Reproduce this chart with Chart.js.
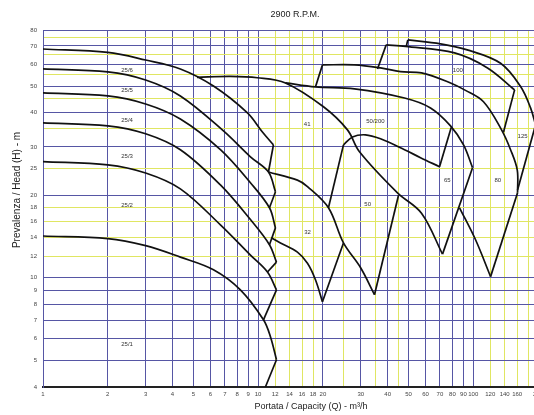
<!DOCTYPE html>
<html>
<head>
<meta charset="utf-8">
<title>2900 R.P.M.</title>
<script src="https://cdn.jsdelivr.net/npm/chart.js@4.4.0/dist/chart.umd.min.js"></script>
<style>
  html, body { margin: 0; padding: 0; background: #fff; overflow: hidden; }
  #box { position: relative; width: 560px; height: 415px; }
</style>
</head>
<body>
<div id="box"><canvas id="pumpChart"></canvas></div>
<script>
// log grid: blue = decades/units, yellow = intermediate lines
const xGridBlue = [1, 2, 3, 4, 5, 6, 7, 8, 9, 10, 20, 30, 40, 50, 60, 70, 80, 90, 100, 200];
const xGridYellow = [12, 14, 16, 18, 25, 35, 45, 120, 140, 160, 180];
const xTickLabels = [1, 2, 3, 4, 5, 6, 7, 8, 9, 10, 12, 14, 16, 18, 20, 30, 40, 50, 60, 70, 80, 90, 100, 120, 140, 160, 200];
const yGridBlue = [4, 5, 6, 7, 8, 9, 10, 20, 30, 40, 50, 60, 70, 80];
const yGridYellow = [12, 14, 16, 18, 25, 35, 45, 55, 65, 75];
const yTickLabels = [4, 5, 6, 7, 8, 9, 10, 12, 14, 16, 18, 20, 25, 30, 40, 50, 60, 70, 80];

// impeller curves, [Q m3/h, H m]
const c25_6 = [[1, 68.2], [2, 66.3], [3, 62.2], [4.35, 57.7], [6.2, 50.0], [8.92, 39.9], [10.47, 34.0], [11.78, 30.5]];
const c25_5 = [[1, 57.7], [2, 56.3], [3, 52.6], [4.35, 46.0], [6.9, 34.3], [9.21, 27.6], [11.17, 24.3], [12.04, 20.6]];
const c25_4 = [[1, 47.2], [2, 46.0], [3, 43.0], [4.35, 37.9], [6.68, 29.3], [9.21, 22.2], [11.29, 18.0], [12.04, 15.2]];
const c25_3 = [[1, 36.7], [2, 35.8], [3, 33.5], [4.35, 29.3], [6.68, 21.8], [9.21, 16.3], [11.29, 13.2], [12.17, 11.4]];
const c25_2 = [[1, 26.5], [2, 25.8], [3, 24.1], [4.35, 21.1], [6.68, 15.6], [9.21, 12.1], [11.05, 10.5], [12.17, 9.04]];
const c25_1 = [[1, 14.2], [2, 13.9], [3, 13.1], [4.35, 11.9], [6.2, 10.7], [8.27, 9.04], [10.59, 7.03], [11.41, 6.1], [12.17, 5.03]];
const c41 = [[5.2, 53.8], [7.43, 54.2], [9.92, 53.6], [13.4, 51.3], [20.13, 42.0], [26.02, 34.6], [29.59, 28.8], [44.45, 20.4], [57.48, 17.2], [71.97, 12.2]];
const c32top = [[11.17, 24.3], [15.23, 22.7], [16.96, 21.5], [21.23, 18.0], [24.93, 13.4], [29.91, 10.9], [34.75, 8.68]];
const c32low = [[11.5, 14.0], [12.7, 13.4], [15.23, 12.4], [16.96, 11.3], [18.47, 9.84], [19.91, 8.18]];
const c50 = [[24.93, 30.5], [27.46, 32.6], [31.56, 33.2], [37.06, 32.1], [47.92, 29.3], [56.87, 27.4], [69.71, 25.4]];
const c50low = [[13.4, 51.3], [18.47, 49.6], [28.05, 48.8], [47.92, 45.2], [63.3, 41.6], [78.42, 35.8], [90.14, 30.5], [99.25, 25.2]];
const c50up = [[19.91, 59.7], [28.05, 59.7], [37.06, 58.2], [45.91, 56.4], [57.48, 55.8], [78.42, 51.3], [91.11, 48.4], [111.6, 43.8], [135.4, 34.6], [149.1, 29.3], [160.2, 24.7], [160.7, 20.4]];
const c80 = [[86.36, 18.0], [102.5, 13.76], [120.4, 10.1]];
const c100 = [[39.38, 70.6], [48.4, 69.7], [81.85, 66.0], [116.5, 58.2], [155.7, 48.4]];
const c125 = [[49.64, 73.6], [70.45, 71.2], [93.78, 67.7], [134.0, 60.5], [166.0, 49.8], [184.7, 41.6], [194.9, 36.1]];

// straight limit lines between curves
const links = [
  [[11.78, 30.5], [11.17, 24.3]],
  [[12.04, 20.6], [11.29, 18.0]],
  [[12.04, 15.2], [11.29, 13.2]],
  [[12.17, 11.4], [11.05, 10.5]],
  [[12.17, 9.04], [10.59, 7.03]],
  [[12.17, 5.03], [10.81, 4]],
  [[19.91, 8.18], [24.93, 13.4]],
  [[34.75, 8.68], [44.94, 20.0]],
  [[21.23, 18.0], [24.93, 30.5]],
  [[69.71, 25.4], [79.0, 35.3]],
  [[99.25, 25.2], [71.97, 12.2]],
  [[18.47, 49.6], [19.91, 59.7]],
  [[160.7, 20.4], [120.4, 10.1]],
  [[35.89, 57.7], [39.38, 70.6]],
  [[155.7, 48.4], [138.3, 34.0]],
  [[48.8, 69.6], [49.64, 73.6]],
  [[194.9, 36.1], [160.7, 20.9]]
];

const curveLabels = [
  ['25/6', 2.46, 57.2], ['25/5', 2.46, 48.3], ['25/4', 2.46, 37.6], ['25/3', 2.46, 27.7],
  ['25/2', 2.46, 18.4], ['25/1', 2.46, 5.7], ['41', 16.9, 36.1], ['32', 16.96, 14.6],
  ['50/200', 35.1, 37.3], ['50', 32.3, 18.6], ['65', 75.7, 22.6], ['80', 130.1, 22.6],
  ['100', 84.8, 56.8], ['125', 169.6, 32.9]
];

const BLUE = '#5656a4';
const YELLOW = '#e0e662';
const FONT = 'Liberation Sans, Arial, sans-serif';

const curves = [c25_6, c25_5, c25_4, c25_3, c25_2, c25_1, c41, c32top, c32low, c50, c50low, c50up, c80, c100, c125];

const datasets = curves.map(pts => ({
  data: pts.map(([x, y]) => ({ x, y })),
  tension: 0.35
})).concat(links.map(seg => ({
  data: seg.map(([x, y]) => ({ x, y })),
  tension: 0
})));

const textPlugin = {
  id: 'chartText',
  afterDatasetsDraw(chart) {
    const ctx = chart.ctx;
    const xs = chart.scales.x, ys = chart.scales.y;
    ctx.save();
    ctx.fillStyle = '#333';
    ctx.textAlign = 'center';
    ctx.textBaseline = 'middle';
    ctx.font = '6px ' + FONT;
    curveLabels.forEach(([t, q, h]) => {
      ctx.fillText(t, xs.getPixelForValue(q), ys.getPixelForValue(h));
    });
    ctx.fillStyle = '#222';
    ctx.font = '9px ' + FONT;
    ctx.fillText('2900 R.P.M.', 295, 15);
    ctx.fillText('Portata / Capacity (Q) - m³/h', 311, 407);
    ctx.translate(17, 190);
    ctx.rotate(-Math.PI / 2);
    ctx.font = '10px ' + FONT;
    ctx.fillText('Prevalenza / Head (H) - m', 0, 0);
    ctx.restore();
  }
};

new Chart(document.getElementById('pumpChart'), {
  type: 'scatter',
  data: { datasets },
  plugins: [textPlugin],
  options: {
    responsive: true,
    maintainAspectRatio: false,
    animation: false,
    layout: { padding: { top: 30, right: 22, left: 0, bottom: 0 } },
    showLine: true,
    elements: {
      point: { radius: 0 },
      line: { borderColor: '#111', borderWidth: 1.7, fill: false }
    },
    plugins: { legend: { display: false }, tooltip: { enabled: false } },
    scales: {
      x: {
        type: 'logarithmic',
        min: 1,
        max: 200,
        afterBuildTicks: s => { s.ticks = xGridBlue.concat(xGridYellow).sort((a, b) => a - b).map(v => ({ value: v })); },
        afterFit: s => { s.height = 28; },
        ticks: {
          autoSkip: false, maxRotation: 0, padding: 4,
          color: '#444', font: { size: 6, family: FONT },
          callback: v => xTickLabels.includes(v) ? String(v) : ''
        },
        grid: {
          drawTicks: false,
          lineWidth: 1,
          color: c => (c.tick && xGridBlue.includes(c.tick.value)) ? BLUE : YELLOW
        },
        border: { color: '#222', width: 2 }
      },
      y: {
        type: 'logarithmic',
        min: 4,
        max: 80,
        afterBuildTicks: s => { s.ticks = yGridBlue.concat(yGridYellow).sort((a, b) => a - b).map(v => ({ value: v })); },
        afterFit: s => { s.width = 43; },
        ticks: {
          autoSkip: false, padding: 6,
          color: '#444', font: { size: 6, family: FONT },
          callback: v => yTickLabels.includes(v) ? String(v) : ''
        },
        grid: {
          drawTicks: false,
          lineWidth: 1,
          color: c => (c.tick && yGridBlue.includes(c.tick.value)) ? BLUE : YELLOW
        },
        border: { color: BLUE, width: 1 }
      }
    }
  }
});
</script>
</body>
</html>
